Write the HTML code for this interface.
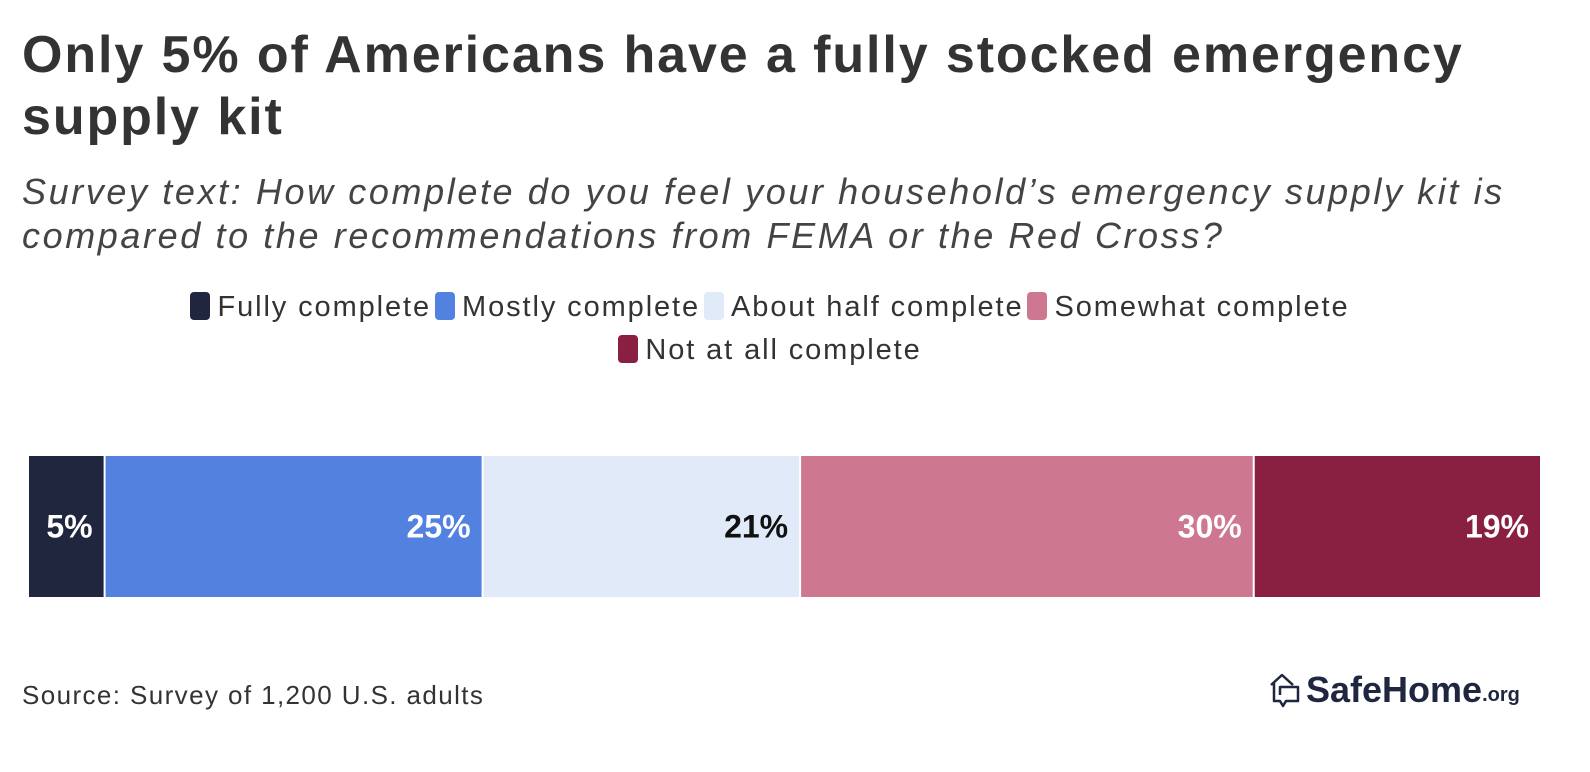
<!DOCTYPE html>
<html><head><meta charset="utf-8"><style>
body{margin:0;width:1590px;height:772px;background:#fff;font-family:"Liberation Sans",sans-serif;color:#333;position:relative;overflow:hidden}
#title{position:absolute;left:22px;top:24px;font-size:52px;font-weight:bold;line-height:62px;width:1560px;color:#333;letter-spacing:1.9px;white-space:nowrap}
#sub{position:absolute;left:22px;top:170px;font-size:36px;font-style:italic;line-height:44px;color:#444;width:1570px;white-space:nowrap;letter-spacing:2.6px}
#legend{position:absolute;left:0;width:1540px;top:286px;text-align:center;font-size:29px;line-height:43px;color:#333;letter-spacing:1.9px}
.li{display:inline-block;margin:0 2px}
.sw{display:inline-block;width:20px;height:28px;border-radius:4px;vertical-align:-4px;margin-right:7px}
#src{position:absolute;left:22px;top:680px;font-size:26px;color:#333;letter-spacing:1.4px}
#logo{position:absolute;left:1268px;top:669px;font-size:36px;font-weight:bold;color:#1f2640;display:flex;align-items:center}
</style></head><body>
<div id="title">Only 5% of Americans have a fully stocked emergency<br>supply kit</div>
<div id="sub">Survey text: How complete do you feel your household’s emergency supply kit is<br>compared to the recommendations from FEMA or the Red Cross?</div>
<div id="legend"></div>
<svg id="chart" width="1590" height="772" style="position:absolute;left:0;top:0;pointer-events:none"></svg>
<div id="src">Source: Survey of 1,200 U.S. adults</div>
<div id="logo">
<svg width="34" height="38" viewBox="0 0 34 38" style="margin-right:4px"><path d="M3 14 L14 4 L25 14 M6 12 V30 H12 L15 35 L18 30 H30 V16 H12 V24" fill="none" stroke="#1f2640" stroke-width="2.5" stroke-linejoin="round"/></svg>
<span>SafeHome</span><span style="font-size:20px;margin-top:10px">.org</span></div>
<script>
const categories=["Fully complete","Mostly complete","About half complete","Somewhat complete","Not at all complete"];
const values=[5,25,21,30,19];
const labels=["5%","25%","21%","30%","19%"];
const colors=["#1f263e","#5281e0","#e1eaf8","#cd7791","#891f41"];
const textColors=["#fff","#fff","#111","#fff","#fff"];
const NS="http://www.w3.org/2000/svg";
const svg=document.getElementById('chart');
const x0=29,x1=1541,y0=456,h=141;
const total=values.reduce((a,b)=>a+b,0);
const xs=v=>x0+(v/total)*(x1-x0);
let acc=0;
values.forEach((v,i)=>{
 const a=xs(acc),b=xs(acc+v);acc+=v;
 const r=document.createElementNS(NS,'rect');
 
 
 r.setAttribute('x',a+(i?1:0));r.setAttribute('y',y0);
 r.setAttribute('width',b-a-(i?2:1));r.setAttribute('height',h);
 r.setAttribute('fill',colors[i]);svg.appendChild(r);
 const t=document.createElementNS(NS,'text');
 
 
 t.setAttribute('x',b-12);t.setAttribute('y',y0+h/2+11);
 t.setAttribute('text-anchor','end');t.setAttribute('font-size','32');
 t.setAttribute('font-weight','bold');t.setAttribute('font-family','Liberation Sans, sans-serif');
 t.setAttribute('fill',textColors[i]);t.textContent=labels[i];svg.appendChild(t);
});
const lg=document.getElementById('legend');
categories.forEach((c,i)=>{
 const s=document.createElement('span');s.className='li';
 
 
 s.innerHTML='<span class="sw" style="background:'+colors[i]+'"></span>'+c;
 lg.appendChild(s);
 if(i==3)lg.appendChild(document.createElement('br'));
});
</script>
</body></html>
